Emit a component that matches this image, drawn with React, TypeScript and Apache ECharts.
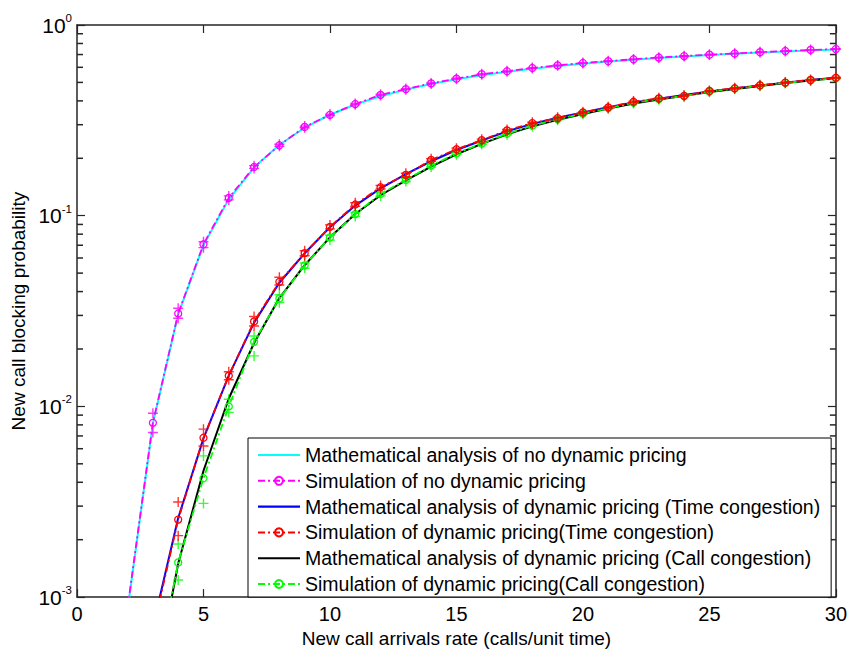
import React, { useEffect, useRef } from "react";
import * as echarts from "echarts";

// x values: new call arrival rate (calls/unit time)
const arrivalRate = [1, 2, 3, 4, 5, 6, 7, 8, 9, 10, 11, 12, 13, 14, 15, 16, 17, 18, 19, 20, 21, 22, 23, 24, 25, 26, 27, 28, 29, 30];

const mathNoPricing = [null, 0.00086, 0.00813, 0.0304, 0.07, 0.1219, 0.1788, 0.2355, 0.2892, 0.3383, 0.3828, 0.4227, 0.4584, 0.4905, 0.5193, 0.5452, 0.5687, 0.5899, 0.6093, 0.627, 0.6432, 0.6581, 0.6718, 0.6845, 0.6963, 0.7072, 0.7174, 0.727, 0.7359, 0.7443];
const simNoPricing = [null, 0.00088, 0.0082, 0.0307, 0.0708, 0.124, 0.18, 0.234, 0.292, 0.338, 0.385, 0.43, 0.461, 0.494, 0.523, 0.552, 0.572, 0.595, 0.614, 0.632, 0.646, 0.661, 0.675, 0.687, 0.699, 0.709, 0.72, 0.73, 0.74, 0.748];
const simNoPricingHi = [null, null, 0.0092, 0.0327, 0.073, 0.127, 0.183, 0.237, 0.295, 0.341, 0.388, 0.433, 0.464, 0.497, 0.526, 0.555, 0.575, 0.598, 0.617, 0.635, 0.649, 0.664, 0.678, 0.69, 0.702, 0.712, 0.723, 0.733, 0.743, 0.751];
const simNoPricingLo = [null, null, 0.0073, 0.029, 0.068, 0.121, 0.177, 0.231, 0.289, 0.335, 0.382, 0.427, 0.458, 0.491, 0.52, 0.549, 0.569, 0.592, 0.611, 0.629, 0.643, 0.658, 0.672, 0.684, 0.696, 0.706, 0.717, 0.727, 0.737, 0.745];

const mathTime = [null, null, 0.0007, 0.0026, 0.0068, 0.0145, 0.0275, 0.0445, 0.0635, 0.087, 0.113, 0.139, 0.165, 0.193, 0.221, 0.248, 0.277, 0.303, 0.326, 0.348, 0.371, 0.392, 0.411, 0.43, 0.448, 0.465, 0.482, 0.498, 0.514, 0.529];
const simTime = [null, null, 0.00067, 0.00255, 0.00685, 0.0145, 0.0279, 0.045, 0.0636, 0.0874, 0.1145, 0.141, 0.1637, 0.196, 0.223, 0.249, 0.28, 0.306, 0.325, 0.348, 0.37, 0.396, 0.412, 0.425, 0.451, 0.466, 0.483, 0.499, 0.515, 0.529];
const simTimeHi = [null, null, 0.0008, 0.00315, 0.0076, 0.0152, 0.0296, 0.0476, 0.0655, 0.0895, 0.117, 0.144, 0.167, 0.199, 0.226, 0.252, 0.283, 0.309, 0.328, 0.351, 0.373, 0.399, 0.415, 0.428, 0.454, 0.469, 0.486, 0.502, 0.518, 0.532];
const simTimeLo = [null, null, 0.00055, 0.0021, 0.0062, 0.0138, 0.0264, 0.0433, 0.0617, 0.0853, 0.112, 0.138, 0.16, 0.193, 0.22, 0.246, 0.277, 0.303, 0.322, 0.345, 0.367, 0.393, 0.409, 0.422, 0.448, 0.463, 0.48, 0.496, 0.512, 0.526];

const mathCall = [null, null, 0.0003, 0.0015, 0.0046, 0.011, 0.0215, 0.037, 0.055, 0.077, 0.102, 0.128, 0.153, 0.181, 0.21, 0.238, 0.267, 0.294, 0.318, 0.341, 0.365, 0.388, 0.407, 0.425, 0.445, 0.462, 0.479, 0.496, 0.512, 0.527];
const simCall = [null, null, 0.00032, 0.00152, 0.0042, 0.01, 0.0218, 0.0368, 0.0549, 0.0769, 0.102, 0.13, 0.154, 0.183, 0.212, 0.239, 0.269, 0.297, 0.32, 0.343, 0.366, 0.391, 0.409, 0.424, 0.447, 0.463, 0.481, 0.497, 0.512, 0.526];
const simCallHi = [null, null, 0.0004, 0.0019, 0.0055, 0.0109, 0.0234, 0.0385, 0.0565, 0.079, 0.104, 0.132, 0.157, 0.186, 0.215, 0.242, 0.272, 0.3, 0.323, 0.346, 0.369, 0.394, 0.412, 0.427, 0.45, 0.466, 0.484, 0.5, 0.515, 0.529];
const simCallLo = [null, null, 0.00026, 0.00123, 0.0031, 0.0093, 0.0184, 0.035, 0.053, 0.0745, 0.099, 0.127, 0.151, 0.18, 0.209, 0.236, 0.266, 0.294, 0.317, 0.34, 0.363, 0.388, 0.406, 0.421, 0.444, 0.46, 0.478, 0.494, 0.509, 0.523];

const xTicks = [0, 5, 10, 15, 20, 25, 30];
const decadeExponents = [-3, -2, -1];
const minorMultipliers = [2, 3, 4, 5, 6, 7, 8, 9];

const names = [
  "Mathematical analysis of no dynamic pricing",
  "Simulation of no dynamic pricing",
  "Mathematical analysis of dynamic pricing (Time congestion)",
  "Simulation of dynamic pricing(Time congestion)",
  "Mathematical analysis of dynamic pricing (Call congestion)",
  "Simulation of dynamic pricing(Call congestion)",
];

const FONT = '"Liberation Sans", Arial, Helvetica, sans-serif';
const PLUS = "path://M4.3,0H5.7V10H4.3Z M0,4.3H10V5.7H0Z";
const LINE_ICON = "path://M0,0H40V2H0Z";
const DASHDOT = [7, 3, 2, 3];
const AXIS_COLOR = "#262626";

function pairs(arr: (number | null)[]) {
  return arr.map((v, i) => [arrivalRate[i], v]);
}

export default function App() {
  const ref = useRef<HTMLDivElement>(null);
  useEffect(() => {
    if (!ref.current) return;
    const chart = echarts.init(ref.current, null, { renderer: "svg" });

    const minorValues: number[] = [];
    decadeExponents.forEach((e) => {
      minorMultipliers.forEach((m) => minorValues.push(m * Math.pow(10, e)));
    });

    const mathLine = (name: string, data: (number | null)[], color: string, z: number) => ({
      name,
      type: "line",
      data: pairs(data),
      showSymbol: false,
      symbol: "none",
      clip: true,
      z,
      lineStyle: { color, width: 2, type: "solid" },
      itemStyle: { color },
    });
    const simLine = (name: string, data: (number | null)[], color: string, z: number) => ({
      name,
      type: "line",
      data: pairs(data),
      symbol: "circle",
      symbolSize: 7,
      clip: true,
      z,
      lineStyle: { color, width: 1.8, type: DASHDOT },
      itemStyle: { color: "rgba(255,255,255,0)", borderColor: color, borderWidth: 1.3 },
    });
    const plusMarks = (data: (number | null)[], color: string, z: number) => ({
      type: "scatter",
      data: pairs(data).filter((p) => p[1] != null),
      symbol: PLUS,
      symbolSize: 10,
      clip: true,
      z,
      itemStyle: { color },
      silent: true,
    });
    const minorTickSeries = (xv: number, dir: number) => ({
      type: "scatter",
      data: minorValues.map((v) => [xv, v]),
      symbol: "rect",
      symbolSize: [6, 1.5],
      symbolOffset: [3 * dir, 0],
      clip: false,
      silent: true,
      z: 10,
      itemStyle: { color: AXIS_COLOR, opacity: 1 },
    });

    const option: any = {
      animation: false,
      backgroundColor: "#fff",
      textStyle: { fontFamily: FONT },
      grid: { left: 77, top: 25, width: 760, height: 579, containLabel: false },
      legend: {
        data: names.map((n, i) => (i % 2 === 0 ? { name: n, icon: LINE_ICON } : { name: n })),
        orient: "vertical",
        left: 248,
        top: 438,
        itemWidth: 42,
        itemHeight: 10,
        itemGap: 5.8,
        padding: [7, 11, 3, 9],
        backgroundColor: "#fff",
        borderColor: "#000",
        borderWidth: 1,
        borderRadius: 0,
        z: 20,
        selectedMode: false,
        textStyle: { fontFamily: FONT, fontSize: 19.5, color: "#000", lineHeight: 20 },
      },
      xAxis: [
        {
          type: "value",
          min: 0,
          max: 30,
          interval: 5,
          position: "bottom",
          name: "New call arrivals rate (calls/unit time)",
          nameLocation: "middle",
          nameGap: 25,
          nameTextStyle: { fontFamily: FONT, fontSize: 19, color: "#000" },
          axisLine: { show: true, onZero: false, lineStyle: { color: AXIS_COLOR, width: 1.5 } },
          axisTick: { show: true, inside: true, length: 8, lineStyle: { color: AXIS_COLOR, width: 1.2 } },
          axisLabel: {
            fontFamily: FONT,
            fontSize: 20,
            color: "#000",
            margin: 7,
            customValues: xTicks,
          },
          splitLine: { show: false },
        },
        {
          type: "value",
          min: 0,
          max: 30,
          interval: 5,
          position: "top",
          axisLine: { show: true, onZero: false, lineStyle: { color: AXIS_COLOR, width: 1.5 } },
          axisTick: { show: true, inside: true, length: 8, lineStyle: { color: AXIS_COLOR, width: 1.2 } },
          axisLabel: { show: false },
          splitLine: { show: false },
        },
      ],
      yAxis: [
        {
          type: "log",
          logBase: 10,
          min: 0.001,
          max: 1,
          position: "left",
          name: "New call blocking probability",
          nameLocation: "middle",
          nameGap: 45,
          nameTextStyle: { fontFamily: FONT, fontSize: 19, color: "#000" },
          axisLine: { show: true, onZero: false, lineStyle: { color: AXIS_COLOR, width: 1.5 } },
          axisTick: { show: true, inside: true, length: 8, lineStyle: { color: AXIS_COLOR, width: 1.2 } },
          axisLabel: {
            margin: 5,
            formatter: (v: number) => `{b|10}{s|${Math.round(Math.log10(v))}}`,
            rich: {
              b: { fontFamily: FONT, fontSize: 21, color: "#000" },
              s: { fontFamily: FONT, fontSize: 11.5, color: "#000", padding: [0, 0, 14, 0] },
            },
          },
          splitLine: { show: false },
        },
        {
          type: "log",
          logBase: 10,
          min: 0.001,
          max: 1,
          position: "right",
          axisLine: { show: true, onZero: false, lineStyle: { color: AXIS_COLOR, width: 1.5 } },
          axisTick: { show: true, inside: true, length: 8, lineStyle: { color: AXIS_COLOR, width: 1.2 } },
          axisLabel: { show: false },
          splitLine: { show: false },
        },
      ],
      series: [
        minorTickSeries(0, 1),
        minorTickSeries(30, -1),
        mathLine(names[0], mathNoPricing, "#00ffff", 2),
        simLine(names[1], simNoPricing, "#ff00ff", 3),
        plusMarks(simNoPricingHi, "#ff00ff", 3),
        plusMarks(simNoPricingLo, "#ff00ff", 3),
        mathLine(names[2], mathTime, "#0000ff", 4),
        mathLine(names[4], mathCall, "#000000", 5),
        simLine(names[5], simCall, "#00ff00", 6),
        plusMarks(simCallHi, "#00ff00", 6),
        plusMarks(simCallLo, "#00ff00", 6),
        simLine(names[3], simTime, "#ff0000", 7),
        plusMarks(simTimeHi, "#ff0000", 7),
        plusMarks(simTimeLo, "#ff0000", 7),
      ],
    };

    chart.setOption(option);
    return () => chart.dispose();
  }, []);

  return (
    <div
      ref={ref}
      style={{ position: "fixed", left: 0, top: 0, width: 850, height: 653, background: "#fff" }}
    />
  );
}
